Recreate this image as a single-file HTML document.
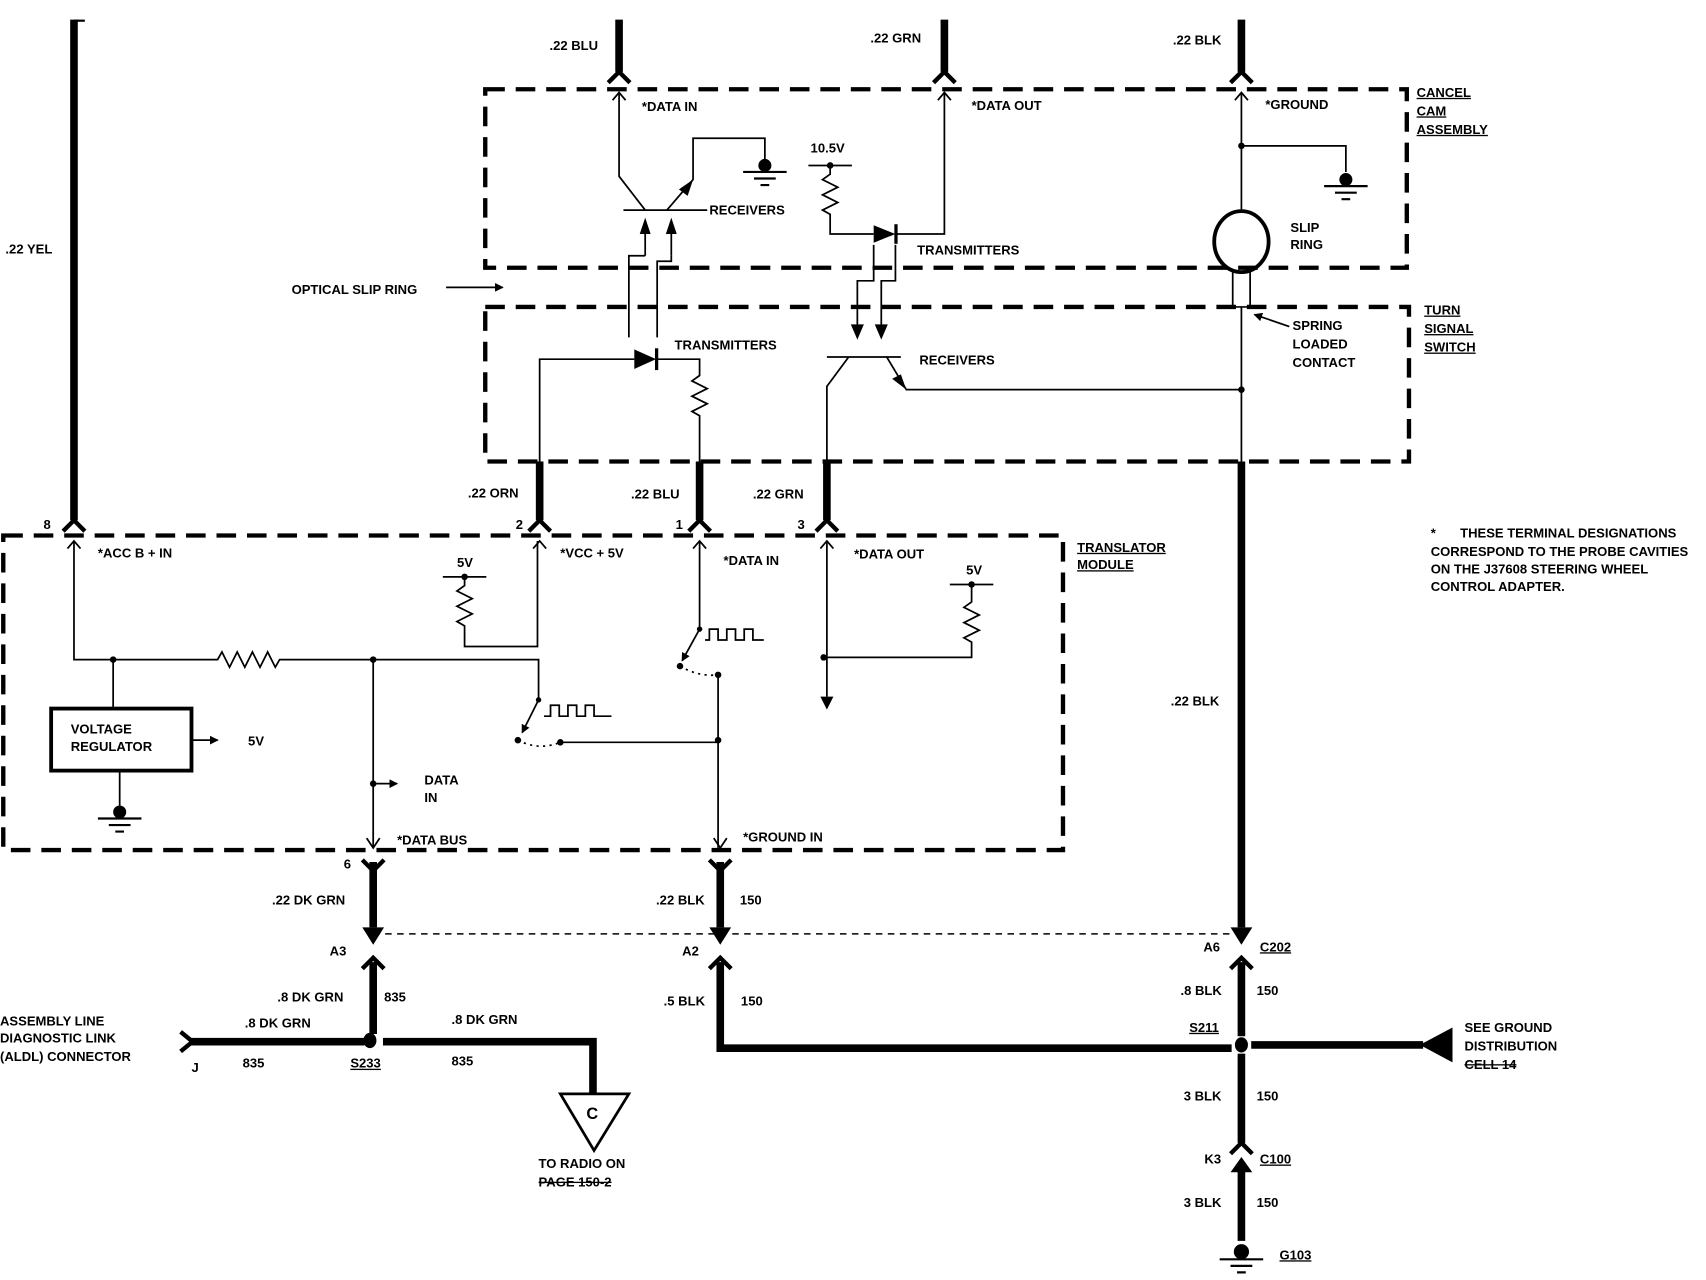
<!DOCTYPE html>
<html><head><meta charset="utf-8"><style>
html,body{margin:0;padding:0;background:#fff;}
svg{display:block;}
text{font-family:"Liberation Sans",sans-serif;font-weight:bold;font-size:12px;fill:#000;}
</style></head><body>
<svg width="1706" height="1280" viewBox="0 0 1568 1176" preserveAspectRatio="none" xmlns="http://www.w3.org/2000/svg">
<defs>
<marker id="ah" markerWidth="8" markerHeight="8" refX="7" refY="4" orient="auto" markerUnits="userSpaceOnUse"><path d="M0,0 L8,4 L0,8 z"/></marker>
</defs>
<g fill="none" stroke="#000">
<g stroke-width="4" stroke-dasharray="18,10">
<rect x="446" y="82" width="847" height="164"/>
<rect x="446" y="282" width="849" height="142"/>
<rect x="3" y="492" width="974" height="289"/>
</g>
<g stroke-width="7">
<path d="M68 18 V478"/>
<path d="M569 18 V66"/><path d="M868 18 V66"/><path d="M1141 18 V66"/>
<path d="M496 424 V478"/><path d="M643 424 V478"/><path d="M760 424 V478"/>
<path d="M1141 424 V852"/>
<path d="M343 792 V852"/><path d="M662 792 V852"/>
<path d="M343 884 V950"/>
<path d="M662 884 V963 H1132"/>
<path d="M1141 884 V952"/><path d="M1141 968 V1050"/>
<path d="M1141 1075 V1140"/>
<path d="M1150 960 H1308"/>
<path d="M175 957 H335"/><path d="M352 957 H545 V1006"/>
</g>
<path d="M68 19 H78" stroke-width="2"/>
<g stroke-width="4">
<path d="M559 76 L569 66 L579 76"/><path d="M858 76 L868 66 L878 76"/><path d="M1131 76 L1141 66 L1151 76"/>
<path d="M58 488 L68 478 L78 488"/><path d="M486 488 L496 478 L506 488"/><path d="M633 488 L643 478 L653 488"/><path d="M750 488 L760 478 L770 488"/>
<path d="M333 790 L343 800 L353 790"/><path d="M652 790 L662 800 L672 790"/>
<path d="M333 890 L343 880 L353 890"/><path d="M652 890 L662 880 L672 890"/><path d="M1131 890 L1141 880 L1151 890"/>
<path d="M1131 1060 L1141 1050 L1151 1060"/>
<path d="M166 948 L177 957 L166 966"/>
</g>
</g>
<g fill="#000">
<path d="M333 852 L343 868 L353 852 z"/><path d="M652 852 L662 868 L672 852 z"/><path d="M1131 852 L1141 868 L1151 852 z"/>
<path d="M1131 1077 L1141 1063 L1151 1077 z"/>
<path d="M1305 960 L1335 944 L1335 976 z"/>
</g>
<g fill="none" stroke="#000" stroke-width="1.6">
<path d="M563 92 L569 85 L575 92"/><path d="M862 92 L868 85 L874 92"/><path d="M1135 92 L1141 85 L1147 92"/>
<path d="M62 504 L68 497 L74 504"/><path d="M490 504 L496 497 L502 504"/><path d="M637 504 L643 497 L649 504"/><path d="M754 504 L760 497 L766 504"/>
<path d="M337 770 L343 779 L349 770"/><path d="M656 770 L662 779 L668 770"/>
<path d="M569 85 V162 L593 193"/><path d="M573 193 H650"/><path d="M613 193 L637 165 V127 H703 V150"/>
<path d="M593 235 V215"/><path d="M617 235 V215"/>
<path d="M593 235 H578 V310"/><path d="M617 235 V240 H604 V310"/>
<path d="M743 152 H783"/><path d="M763 152 V160 l-7 5 l14 7 l-14 7 l14 7 l-14 7 l7 4 V215 H803"/>
<path d="M823 215 H868 V85"/>
<path d="M803 225 V258 H788 V300"/><path d="M823 225 V258 H810 V300"/>
<path d="M760 328 H828"/><path d="M780 328 L760 355 V424"/><path d="M815 328 L833 358 H1141"/>
<path d="M496 424 V330 H583"/><path d="M604 330 H643 V345 l-7 5 l14 7 l-14 7 l14 7 l-14 7 l7 4 V424"/>
<path d="M1141 85 V194"/><path d="M1141 134 H1237 V158"/>
<path d="M1133 250 V282 H1149 V250"/><path d="M1141 282 V424"/>
<path d="M1185 300 L1153 289" marker-end="url(#ah)"/>
<path d="M410 264 H462" marker-end="url(#ah)"/>
<path d="M68 497 V606 H200 l4 -7 l7 14 l7 -14 l7 14 l7 -14 l7 14 l7 -14 l7 14 l4 -7 H495 V643"/>
<path d="M104 606 V651"/><path d="M110 708 V740"/>
<path d="M176 680 H200" marker-end="url(#ah)"/>
<path d="M343 606 V779"/><path d="M343 720 H365" marker-end="url(#ah)"/>
<path d="M407 530 H447"/><path d="M427 530 V538 l-7 5 l14 7 l-14 7 l14 7 l-14 7 l7 4 V594 H494 V497"/>
<path d="M643 497 V578"/><path d="M643 578 L627 607" marker-end="url(#ah)"/>
<path d="M648 588 H652 V578 H660 V588 H668 V578 H676 V588 H684 V578 H692 V588 H702"/>
<path d="M660 620 V779"/><path d="M515 682 H660"/>
<path d="M495 643 L480 673" marker-end="url(#ah)"/>
<path d="M500 658 H506 V648 H514 V658 H522 V648 H530 V658 H538 V648 H546 V658 H562"/>
<path d="M760 497 V640" /><path d="M757 604 H893 V590 l-7 -4 l14 -7 l-14 -7 l14 -7 l-14 -7 l7 -5 V537"/>
<path d="M873 537 H913"/>
<path d="M343 858 H1141" stroke-dasharray="6,5" stroke-width="1.3"/>
<path d="M625 612 Q642 622 660 620" stroke-dasharray="2,4"/><path d="M476 680 Q495 690 515 682" stroke-dasharray="2,4"/>
</g>
<ellipse cx="1141" cy="222" rx="25" ry="28" fill="none" stroke="#000" stroke-width="3.5"/>
<rect x="47" y="651" width="129" height="57" fill="none" stroke="#000" stroke-width="3.5"/>
<g fill="#000">
<path d="M593 200 L588 215 L598 215 z"/><path d="M617 200 L612 215 L622 215 z"/>
<path d="M637 165 L624 174 L632 180 z"/>
<path d="M788 312 L782 298 L794 298 z"/><path d="M810 312 L804 298 L816 298 z"/>
<path d="M833 358 L820 348 L828 344 z"/>
<path d="M803 207 L823 215 L803 223 z"/><rect x="822" y="206" width="3" height="18"/>
<path d="M583 321 L603 330 L583 339 z"/><rect x="602" y="320" width="3" height="20"/>
<path d="M760 652 L754 640 L766 640 z"/>
<circle cx="763" cy="152" r="3"/><circle cx="427" cy="530" r="3"/><circle cx="893" cy="537" r="3"/>
<circle cx="104" cy="606" r="3"/><circle cx="343" cy="606" r="3"/><circle cx="343" cy="720" r="3"/>
<circle cx="660" cy="680" r="3"/><circle cx="757" cy="604" r="3"/><circle cx="1141" cy="134" r="3"/><circle cx="1141" cy="358" r="3"/>
<circle cx="625" cy="612" r="3"/><circle cx="660" cy="620" r="3"/><circle cx="476" cy="680" r="3"/><circle cx="515" cy="682" r="3"/><circle cx="643" cy="578" r="2.5"/><circle cx="495" cy="643" r="2.5"/>
<ellipse cx="340" cy="956" rx="6" ry="7"/><ellipse cx="1141" cy="960" rx="6" ry="7"/>
</g>
<g stroke="#000" stroke-width="2" fill="#000">
<circle cx="703" cy="152" r="5"/><path d="M683 158 H723 M693 164 H713 M699 170 H707"/>
<circle cx="1237" cy="165" r="5"/><path d="M1217 171 H1257 M1227 177 H1247 M1233 183 H1241"/>
<circle cx="110" cy="746" r="5"/><path d="M90 752 H130 M100 758 H120 M106 764 H114"/>
<circle cx="1141" cy="1150" r="6"/><path d="M1121 1157 H1161 M1131 1163 H1151 M1137 1169 H1145"/>
</g>
<path d="M515 1005 H578 L546 1057 z" fill="none" stroke="#000" stroke-width="2.5"/>
<text x="539" y="1028" style="font-size:15px">C</text>
<text x="5" y="233">.22 YEL</text>
<text x="505" y="46">.22 BLU</text><text x="800" y="39">.22 GRN</text><text x="1078" y="41">.22 BLK</text>
<text x="590" y="102">*DATA IN</text><text x="893" y="101">*DATA OUT</text><text x="1163" y="100">*GROUND</text>
<text x="652" y="197">RECEIVERS</text><text x="745" y="140">10.5V</text><text x="843" y="234">TRANSMITTERS</text>
<text x="1186" y="213">SLIP</text><text x="1186" y="229">RING</text>
<text x="268" y="270">OPTICAL SLIP RING</text>
<text x="620" y="321">TRANSMITTERS</text><text x="845" y="335">RECEIVERS</text>
<text x="1188" y="303">SPRING</text><text x="1188" y="320">LOADED</text><text x="1188" y="337">CONTACT</text>
<g text-decoration="underline"><text x="1302" y="89">CANCEL</text><text x="1302" y="106">CAM</text><text x="1302" y="123">ASSEMBLY</text>
<text x="1309" y="289">TURN</text><text x="1309" y="306">SIGNAL</text><text x="1309" y="323">SWITCH</text>
<text x="990" y="507">TRANSLATOR</text><text x="990" y="523">MODULE</text>
<text x="322" y="981">S233</text><text x="1093" y="948">S211</text><text x="1158" y="874">C202</text><text x="1158" y="1069">C100</text><text x="1176" y="1157">G103</text></g>
<text x="430" y="457">.22 ORN</text><text x="580" y="458">.22 BLU</text><text x="692" y="458">.22 GRN</text>
<text x="40" y="486">8</text><text x="474" y="486">2</text><text x="621" y="486">1</text><text x="733" y="486">3</text>
<text x="90" y="512">*ACC B + IN</text><text x="515" y="512">*VCC + 5V</text><text x="665" y="519">*DATA IN</text><text x="785" y="513">*DATA OUT</text>
<text x="420" y="521">5V</text><text x="888" y="528">5V</text>
<text x="65" y="674">VOLTAGE</text><text x="65" y="690">REGULATOR</text><text x="228" y="685">5V</text>
<text x="390" y="721">DATA</text><text x="390" y="737">IN</text>
<text x="365" y="776">*DATA BUS</text><text x="683" y="773">*GROUND IN</text>
<text x="1076" y="648">.22 BLK</text>
<text x="1315" y="494">*</text><text x="1342" y="494">THESE TERMINAL DESIGNATIONS</text>
<text x="1315" y="511">CORRESPOND TO THE PROBE CAVITIES</text><text x="1315" y="527">ON THE J37608 STEERING WHEEL</text><text x="1315" y="543">CONTROL ADAPTER.</text>
<text x="316" y="798">6</text>
<text x="250" y="831">.22 DK GRN</text><text x="603" y="831">.22 BLK</text><text x="680" y="831">150</text>
<text x="303" y="878">A3</text><text x="627" y="878">A2</text><text x="1106" y="874">A6</text>
<text x="255" y="920">.8 DK GRN</text><text x="353" y="920">835</text>
<text x="610" y="924">.5 BLK</text><text x="681" y="924">150</text>
<text x="1085" y="914">.8 BLK</text><text x="1155" y="914">150</text>
<text x="0" y="942">ASSEMBLY LINE</text><text x="0" y="958">DIAGNOSTIC LINK</text><text x="0" y="975">(ALDL) CONNECTOR</text>
<text x="225" y="944">.8 DK GRN</text><text x="415" y="941">.8 DK GRN</text>
<text x="176" y="985">J</text><text x="223" y="981">835</text><text x="415" y="979">835</text>
<text x="495" y="1073">TO RADIO ON</text><text x="495" y="1090" text-decoration="line-through">PAGE 150-2</text>
<text x="1346" y="948">SEE GROUND</text><text x="1346" y="965">DISTRIBUTION</text><text x="1346" y="982" text-decoration="line-through">CELL 14</text>
<text x="1088" y="1011">3 BLK</text><text x="1155" y="1011">150</text>
<text x="1107" y="1069">K3</text>
<text x="1088" y="1109">3 BLK</text><text x="1155" y="1109">150</text>
</svg>
</body></html>
